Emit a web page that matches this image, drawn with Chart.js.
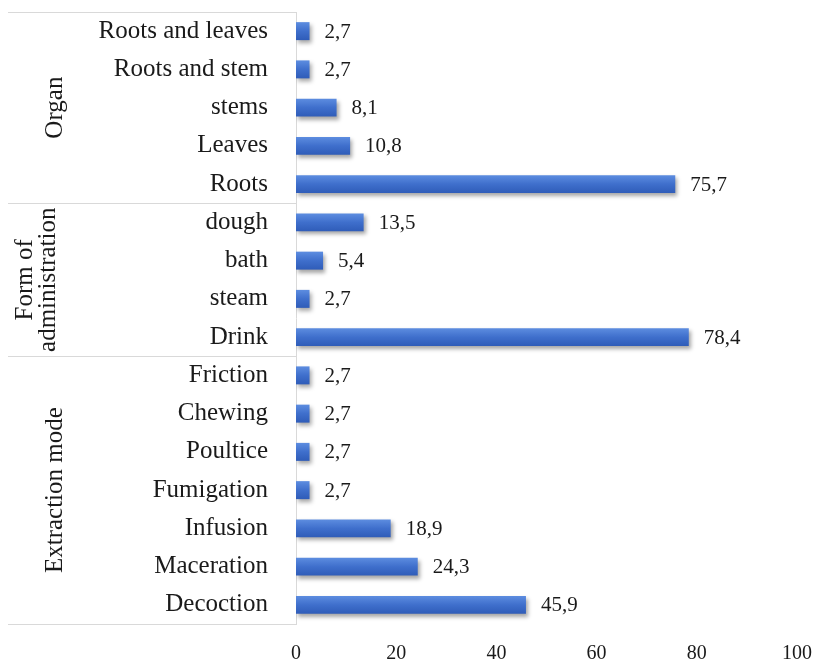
<!DOCTYPE html>
<html>
<head>
<meta charset="utf-8">
<script src="https://cdn.jsdelivr.net/npm/chart.js@4"></script>
<style>
  html,body{margin:0;padding:0;background:#fff;}
  #wrap{width:817px;height:660px;position:relative;}
</style>
</head>
<body>
<div id="wrap"><canvas id="c" width="817" height="660"></canvas></div>
<script>
// categories top -> bottom
const labels = ["Roots and leaves","Roots and stem","stems","Leaves","Roots",
  "dough","bath","steam","Drink",
  "Friction","Chewing","Poultice","Fumigation","Infusion","Maceration","Decoction"];
const values = [2.7,2.7,8.1,10.8,75.7, 13.5,5.4,2.7,78.4, 2.7,2.7,2.7,2.7,18.9,24.3,45.9];
const groupNames = [["Organ"],["Form of","administration"],["Extraction mode"]];
const groupFirst = [0,5,9];
const groupLast = [4,8,15];
const xTicks = [0,20,40,60,80,100];

const SERIF = "'Liberation Serif', 'Times New Roman', serif";
const $ = s => document.querySelector(s);

function barFill(ctx){
  const chart = ctx.chart, y = chart.scales.y;
  const cy = y ? y.getPixelForValue(ctx.dataIndex) : NaN;
  if(!isFinite(cy)) return '#4472C4';
  const g = chart.ctx.createLinearGradient(0, cy-9, 0, cy+9);
  g.addColorStop(0, '#5d8de0');
  g.addColorStop(0.5, '#3f6fcc');
  g.addColorStop(1, '#2f5cb8');
  return g;
}

// shadow on bars, value labels, grouped category frame
const extras = {
  id:'extras',
  beforeDatasetsDraw(chart){
    const c = chart.ctx; c.save();
    c.shadowColor='rgba(0,0,0,0.35)'; c.shadowBlur=4; c.shadowOffsetX=2; c.shadowOffsetY=3;
  },
  afterDatasetsDraw(chart){
    const c = chart.ctx; c.restore();
    const x = chart.scales.x, y = chart.scales.y, area = chart.chartArea;
    c.save();
    c.font = '21px '+SERIF; c.fillStyle='#1a1a1a'; c.textBaseline='middle'; c.textAlign='left';
    values.forEach((v,i)=>{
      c.fillText(v.toFixed(1).replace('.',','), x.getPixelForValue(v)+15, y.getPixelForValue(i)+1);
    });
    // frame lines of the multi-level axis
    c.strokeStyle='#d9d9d9'; c.lineWidth=1;
    const lineYs=[area.top];
    groupLast.slice(0,-1).forEach(k=>lineYs.push((y.getPixelForValue(k)+y.getPixelForValue(k+1))/2));
    lineYs.push(area.bottom);
    lineYs.forEach(ly=>{ c.beginPath(); c.moveTo(8,Math.round(ly)+0.5); c.lineTo(area.left,Math.round(ly)+0.5); c.stroke(); });
    // group labels, rotated
    c.font='25px '+SERIF; c.textAlign='center'; c.textBaseline='middle'; c.fillStyle='#1a1a1a';
    groupNames.forEach((lines,gi)=>{
      const cy=(y.getPixelForValue(groupFirst[gi])+y.getPixelForValue(groupLast[gi]))/2;
      const lh=23, cx=lines.length>1?37:55;
      c.save(); c.translate(cx,cy); c.rotate(-Math.PI/2);
      lines.forEach((t,li)=>c.fillText(t,0,(li-(lines.length-1)/2)*lh));
      c.restore();
    });
    c.restore();
  }
};

new Chart($('#c'),{
  type:'bar',
  data:{labels, datasets:[{data:values, backgroundColor:barFill, barPercentage:0.47, categoryPercentage:1}]},
  options:{
    indexAxis:'y', responsive:false, animation:false,
    layout:{padding:{top:12,right:20,left:0,bottom:0}},
    plugins:{legend:{display:false}, tooltip:{enabled:false}},
    scales:{
      x:{min:0,max:100,
        afterBuildTicks(s){ s.ticks = xTicks.map(v=>({value:v})); },
        afterFit(s){ s.height=36; s.paddingLeft=0; s.paddingRight=0; },
        grid:{display:false}, border:{display:false},
        ticks:{padding:10,color:'#1a1a1a',font:{family:SERIF,size:20}}},
      y:{
        afterFit(s){ s.width=296; s.paddingTop=0; s.paddingBottom=0; },
        grid:{display:false}, border:{display:true,color:'#d9d9d9',width:1},
        ticks:{padding:20,color:'#1a1a1a',font:{family:SERIF,size:25},autoSkip:false}}
    }
  },
  plugins:[extras]
});
</script>
</body>
</html>
